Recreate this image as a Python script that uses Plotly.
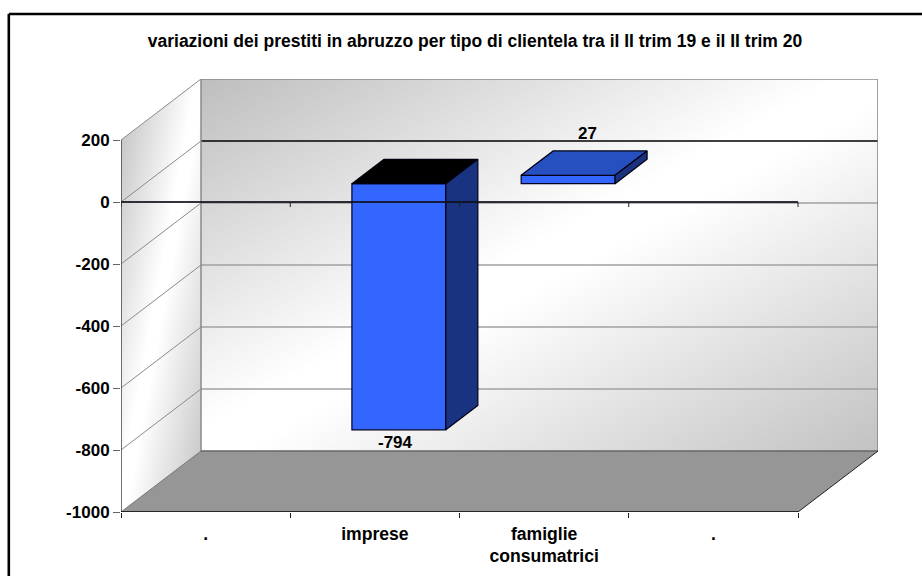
import base64
import plotly.graph_objects as go

# --- data ---
categories = [".", "imprese", "famiglie<br>consumatrici", "."]
category_positions = [0.5, 1.5, 2.5, 3.5]
bar_positions = [1.5, 2.5]
bar_values = [-794, 27]
bar_labels = ["-794", "27"]
y_ticks = [200, 0, -200, -400, -600, -800, -1000]
title_text = "variazioni dei prestiti in abruzzo per tipo di clientela tra il II trim 19 e il II trim 20"

# --- oblique projection (style) ---
W, H = 922, 576
L, R, T, B = 121, 878, 79, 512
X_PER_CAT = 169.25
PX_PER_UNIT = 0.31
DEPTH_PX_X, DEPTH_PX_Y = 80, 61
DX = DEPTH_PX_X / X_PER_CAT
DY = DEPTH_PX_Y / PX_PER_UNIT
Y_MIN, Y_MAX, X_MAX = -1000, 200, 4
BAR_W = 0.555
BAR_OX, BAR_OY = 0.3 * DX, 0.3 * DY      # front face of bars sits 30% deep
BAR_DX, BAR_DY = 0.4 * DX, 0.4 * DY      # bar depth
FONT = "Liberation Sans, Arial, sans-serif"
LBL = 17.0


def svg_uri(w, h, body):
    s = (f'<svg xmlns="http://www.w3.org/2000/svg" width="{w}" height="{h}" viewBox="0 0 {w} {h}">'
         '<defs><linearGradient id="g" x1="0" y1="0" x2="1" y2="1">'
         '<stop offset="0" stop-color="#bebebe"/><stop offset="0.47" stop-color="#ffffff"/>'
         '<stop offset="0.53" stop-color="#ffffff"/>'
         '<stop offset="1" stop-color="#c2c2c2"/></linearGradient></defs>' + body + '</svg>')
    return "data:image/svg+xml;base64," + base64.b64encode(s.encode()).decode()


wall_w = X_MAX * X_PER_CAT
wall_h = (Y_MAX - Y_MIN) * PX_PER_UNIT
pw = R - L
ph = B - T
images = [
    dict(source=svg_uri(wall_w, wall_h, f'<rect width="{wall_w}" height="{wall_h}" fill="url(#g)"/>'),
         xref="paper", yref="paper", x=DEPTH_PX_X / pw, y=1, sizex=wall_w / pw, sizey=wall_h / ph,
         xanchor="left", yanchor="top", sizing="stretch", layer="below"),
    dict(source=svg_uri(DEPTH_PX_X, wall_h + DEPTH_PX_Y,
                        f'<polygon points="0,{DEPTH_PX_Y} {DEPTH_PX_X},0 {DEPTH_PX_X},{wall_h} 0,{wall_h + DEPTH_PX_Y}" fill="url(#g)"/>'),
         xref="paper", yref="paper", x=0, y=1, sizex=DEPTH_PX_X / pw, sizey=1,
         xanchor="left", yanchor="top", sizing="stretch", layer="below"),
]


def seg(x0, y0, x1, y1, color, width=1, layer="below", dash=None):
    return dict(type="line", xref="x", yref="y", x0=x0, y0=y0, x1=x1, y1=y1, layer=layer,
                line=dict(color=color, width=width, dash=dash))


shapes = [
    # floor
    dict(type="path", xref="x", yref="y", layer="below", fillcolor="#969696", line=dict(width=0),
         path=f"M0,{Y_MIN} L{DX},{Y_MIN + DY} L{X_MAX + DX},{Y_MIN + DY} L{X_MAX},{Y_MIN} Z"),
]
# walls' gridlines
for v in y_ticks:
    if v == Y_MIN or v == Y_MAX:
        continue
    shapes.append(seg(DX, v + DY, X_MAX + DX, v + DY, "#000000" if v == 0 else "#a0a0a0", 1.5))
    shapes.append(seg(0, v, DX, v + DY, "#8a8a8a", 1))
# back-wall frame
shapes += [
    seg(DX, Y_MAX + DY, X_MAX + DX, Y_MAX + DY, "#8a8a8a", 1.5),
    seg(X_MAX + DX, Y_MAX + DY, X_MAX + DX, Y_MIN + DY, "#808080", 1.5),
    seg(DX, Y_MAX + DY, DX, Y_MIN + DY, "#8a8a8a", 1.5),
    seg(0, Y_MAX, DX, Y_MAX + DY, "#8a8a8a", 1),
    seg(DX, Y_MIN + DY, X_MAX + DX, Y_MIN + DY, "#666666", 1.5),
    seg(0, Y_MIN, DX, Y_MIN + DY, "#777777", 1),
    seg(X_MAX, Y_MIN, X_MAX + DX, Y_MIN + DY, "#222222", 1),
    seg(0, Y_MAX, 0, Y_MIN, "#444444", 1.5),
    seg(0, Y_MIN, X_MAX, Y_MIN, "#000000", 1.5),
]
# zero axis + its ticks drawn over the bars
shapes.append(seg(0, 0, X_MAX, 0, "rgba(15,15,25,0.85)", 2.2, layer="above"))
for i in range(X_MAX + 1):
    shapes.append(seg(i, 0, i, -5 / PX_PER_UNIT, "#222222", 1, layer="above"))
# frame of the chart (cut by the page on the right and at the bottom)
shapes += [
    dict(type="line", xref="paper", yref="paper", x0=(8.8 - L) / (R - L), x1=1.1,
         y0=(B - 14) / (B - T), y1=(B - 14) / (B - T), line=dict(color="#000", width=2.6), layer="above"),
    dict(type="line", xref="paper", yref="paper", x0=(8.8 - L) / (R - L), x1=(8.8 - L) / (R - L),
         y0=(B - 14) / (B - T), y1=-0.3, line=dict(color="#000", width=2.6), layer="above"),
]

fig = go.Figure()
fig.add_trace(go.Bar(x=[p + BAR_OX for p in bar_positions], y=bar_values, base=BAR_OY, width=BAR_W,
                     marker=dict(color="#3366ff", line=dict(color="#000022", width=1.2)),
                     hoverinfo="skip", showlegend=False))


def face(xs, ys, color):
    fig.add_trace(go.Scatter(x=xs, y=ys, mode="lines", fill="toself", fillcolor=color,
                             line=dict(color="#000011", width=1.2), hoverinfo="skip", showlegend=False))


top_colors = ["#000000", "#264fbf"]
side_color = "#1a3380"
for p, v, tc in zip(bar_positions, bar_values, top_colors):
    x0 = p + BAR_OX - BAR_W / 2
    x1 = p + BAR_OX + BAR_W / 2
    hi = max(v, 0) + BAR_OY
    lo = min(v, 0) + BAR_OY
    face([x0, x0 + BAR_DX, x1 + BAR_DX, x1, x0], [hi, hi + BAR_DY, hi + BAR_DY, hi, hi], tc)
    face([x1, x1 + BAR_DX, x1 + BAR_DX, x1, x1], [hi, hi + BAR_DY, lo + BAR_DY, lo, hi], side_color)

annotations = []
for p, v, s in zip(bar_positions, bar_values, bar_labels):
    if v < 0:
        annotations.append(dict(x=p + BAR_OX, xshift=-3, y=v + BAR_OY, text=f"<b>{s}</b>", showarrow=False,
                                yanchor="top", yshift=-1, font=dict(family=FONT, size=LBL, color="#000")))
    else:
        annotations.append(dict(x=p + BAR_OX, xshift=19, y=v + BAR_OY + BAR_DY, text=f"<b>{s}</b>", showarrow=False,
                                yanchor="bottom", yshift=6, font=dict(family=FONT, size=LBL, color="#000")))

fig.update_layout(
    width=W, height=H, autosize=False, paper_bgcolor="#ffffff", plot_bgcolor="rgba(0,0,0,0)",
    margin=dict(l=L, r=W - R, t=T, b=H - B, pad=0), showlegend=False, barmode="overlay",
    font=dict(family=FONT, size=LBL, color="#000000"),
    title=dict(text=f"<b>{title_text}</b>", x=(475 - L) / pw, y=1 - 41 / H, xref="paper", yref="container",
               xanchor="center", yanchor="middle", font=dict(family=FONT, size=17.5, color="#000"),
               automargin=False),
    xaxis=dict(range=[0, X_MAX + DX], tickmode="array", tickvals=category_positions, automargin=False,
               ticktext=[f"<b>{c}</b>" for c in categories], ticks="", ticklen=0, showgrid=False,
               zeroline=False, showline=False, tickangle=0, ticklabelstandoff=9,
               tickfont=dict(family=FONT, size=17.6, color="#000"),
               minor=dict(ticks="outside", tick0=0, dtick=1, ticklen=5, tickcolor="#222", tickwidth=1, showgrid=False)),
    yaxis=dict(range=[Y_MIN, Y_MAX + DY], tickmode="array", tickvals=y_ticks, automargin=False,
               ticktext=[f"<b>{v}</b>" for v in y_ticks], ticks="outside", ticklen=7, tickcolor="#666", tickwidth=1,
               showgrid=False, zeroline=False, showline=False, tickfont=dict(family=FONT, size=LBL, color="#000")),
    images=images, shapes=shapes, annotations=annotations,
)
fig.write_html("out.html", post_script="document.body.style.margin='0';", config={"displayModeBar": False})
